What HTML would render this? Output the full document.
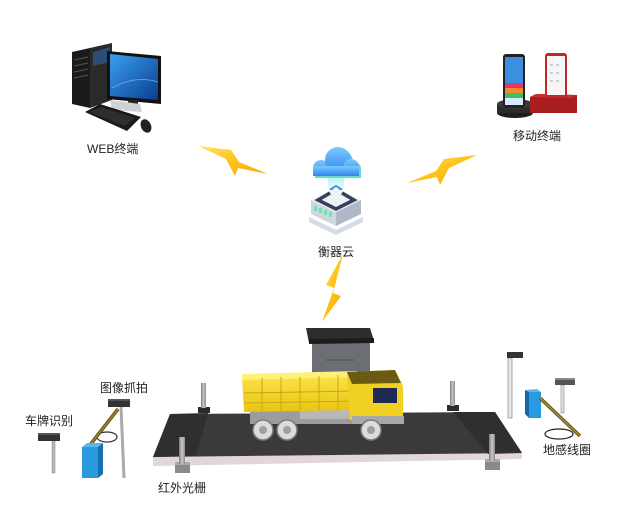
<!DOCTYPE html>
<html><head><meta charset="utf-8"><style>
html,body{margin:0;padding:0;background:#fff;}
svg{display:block;}
text{font-family:"Liberation Sans","Noto Sans CJK SC",sans-serif;font-size:12px;fill:#222;}
</style></head><body>
<svg width="622" height="511" viewBox="0 0 622 511" xmlns="http://www.w3.org/2000/svg">
<defs>
<linearGradient id="bolt" x1="0" y1="0" x2="1" y2="1"><stop offset="0" stop-color="#ffe36a"/><stop offset="0.5" stop-color="#ffc21a"/><stop offset="1" stop-color="#f5a800"/></linearGradient>
<linearGradient id="scr" x1="0" y1="0" x2="1" y2="1"><stop offset="0" stop-color="#3aa0f0"/><stop offset="1" stop-color="#0a3d8f"/></linearGradient>
<linearGradient id="cloud" x1="0" y1="0" x2="0" y2="1"><stop offset="0" stop-color="#7cc9ff"/><stop offset="1" stop-color="#2f86ee"/></linearGradient>
<linearGradient id="beam" x1="0" y1="0" x2="0" y2="1"><stop offset="0" stop-color="#a8f0f0" stop-opacity="0.9"/><stop offset="1" stop-color="#c8f4ff" stop-opacity="0.2"/></linearGradient>
<linearGradient id="bed" x1="0" y1="0" x2="0" y2="1"><stop offset="0" stop-color="#fbe44a"/><stop offset="1" stop-color="#e8c414"/></linearGradient>
<linearGradient id="post" x1="0" y1="0" x2="1" y2="0"><stop offset="0" stop-color="#7a7a7a"/><stop offset="0.5" stop-color="#c8c8c8"/><stop offset="1" stop-color="#8a8a8a"/></linearGradient>
</defs>

<!-- WEB terminal computer -->
<polygon points="90,48 112,43 112,100 90,108" fill="#2a2a2a"/>
<polygon points="93,52 110,47 110,62 93,66" fill="#2d5c9a" opacity="0.7"/>
<polygon points="72,52 90,48 90,108 72,104" fill="#1b1b1b"/>
<g stroke="#555" stroke-width="1"><line x1="74" y1="60" x2="88" y2="57"/><line x1="74" y1="66" x2="88" y2="63"/><line x1="74" y1="72" x2="88" y2="69"/><line x1="74" y1="78" x2="88" y2="75"/></g>
<polygon points="107,51 161,56 161,104 107,99" fill="#111"/>
<polygon points="110,54 158,59 158,100 110,96" fill="url(#scr)"/>
<path d="M112 88 Q135 75 158 82" stroke="#7fc8ff" stroke-width="1" fill="none" opacity="0.6"/>
<rect x="128" y="100" width="10" height="7" fill="#222"/>
<polygon points="110,100 140,104 142,112 112,110" fill="#cfd3d6"/>
<polygon points="85,112 100,104 141,117 127,131" fill="#1a1a1a"/>
<polygon points="89,112 101,107 135,118 125,126" fill="#2e2e2e"/>
<ellipse cx="146" cy="126" rx="5" ry="7" transform="rotate(-25 146 126)" fill="#222"/>
<text x="87" y="153">WEB终端</text>

<!-- Mobile terminal -->
<ellipse cx="515" cy="113" rx="18" ry="5" fill="#1e1e1e"/>
<rect x="497" y="104" width="36" height="9" fill="#2c2c2c"/>
<ellipse cx="515" cy="104" rx="18" ry="5" fill="#3a3a3a"/>
<rect x="503" y="54" width="22" height="54" rx="3" fill="#222"/>
<rect x="505" y="57" width="18" height="26" fill="#3b8fe0"/>
<rect x="505" y="83" width="18" height="5" fill="#e8336b"/>
<rect x="505" y="88" width="18" height="5" fill="#f28c28"/>
<rect x="505" y="93" width="18" height="5" fill="#3fbf6a"/>
<rect x="505" y="98" width="18" height="7" fill="#d8ecff"/>
<polygon points="530,97 536,94 577,95 577,113 530,113" fill="#a81e20"/>
<polygon points="530,97 536,94 577,95 571,98" fill="#c83030"/>
<rect x="545" y="53" width="22" height="45" rx="3" fill="#c0282a"/>
<rect x="547" y="56" width="18" height="39" fill="#f6f6f6"/>
<g fill="#cfcfcf"><rect x="550" y="64" width="3" height="2"/><rect x="556" y="64" width="3" height="2"/><rect x="550" y="72" width="3" height="2"/><rect x="556" y="72" width="3" height="2"/><rect x="550" y="80" width="3" height="2"/><rect x="556" y="80" width="3" height="2"/></g>
<text x="513" y="140">移动终端</text>

<!-- Lightning bolts -->
<polygon points="198,146 231,150 239,162 268,174 238,168 235,176 226,159" fill="url(#bolt)"/>
<polygon points="477,155 444,159 436,171 407,183 437,177 440,185 449,168" fill="url(#bolt)"/>
<polygon points="343,254 326,285 334,288 322,322 341,296 333,293" fill="url(#bolt)"/>

<!-- Cloud -->
<rect x="328" y="177" width="16" height="14" fill="url(#beam)"/>
<g transform="translate(2,2)" fill="#62dccb">
<circle cx="321" cy="168" r="8"/><circle cx="338" cy="160" r="13"/><circle cx="351" cy="167" r="8"/><rect x="313" y="166" width="46" height="10"/>
</g>
<g fill="url(#cloud)">
<circle cx="321" cy="168" r="8"/><circle cx="338" cy="160" r="13"/><circle cx="351" cy="167" r="8"/><rect x="313" y="166" width="46" height="10"/>
</g>
<polygon points="336,185 343,189 336,193 329,189" fill="#3a8ee8"/>
<polygon points="336,187 339,189 336,191 333,189" fill="#fff"/>
<!-- Server box -->
<polygon points="309,217 336,230 363,217 363,222 336,235 309,222" fill="#d5dce6"/>
<polygon points="311,200 336,212 336,226 311,214" fill="#cfd6e0"/>
<polygon points="336,212 361,200 361,214 336,226" fill="#aeb8c6"/>
<polygon points="311,200 336,188 361,200 336,212" fill="#eef2f7"/>
<polyline points="330,193 318,200 336,209 354,200 342,193" fill="none" stroke="#35405a" stroke-width="3.5"/>
<g fill="#6de3b0"><rect x="314" y="206" width="3" height="5"/><rect x="319" y="208" width="3" height="5"/><rect x="324" y="210" width="3" height="5"/><rect x="329" y="212" width="3" height="5"/></g>
<text x="318" y="256">衡器云</text>

<!-- Platform -->
<polygon points="153,457 522,453 522,459 153,466" fill="#e2d6d6"/>
<polygon points="170,414 495,412 522,453 153,457" fill="#3b3939"/>
<polygon points="170,414 208,413 196,456 153,457" fill="#302e2e"/>
<polygon points="453,412 495,412 522,453 488,454" fill="#302e2e"/>

<!-- back posts -->
<rect x="198" y="407" width="12" height="6" fill="#2b2b2b"/>
<rect x="201" y="383" width="5" height="25" fill="url(#post)"/>
<rect x="447" y="405" width="12" height="6" fill="#2b2b2b"/>
<rect x="450" y="381" width="5" height="25" fill="url(#post)"/>

<!-- Booth -->
<rect x="312" y="342" width="58" height="40" fill="#6b6e73"/>
<line x1="326" y1="360" x2="354" y2="360" stroke="#4a4c50" stroke-width="1"/>
<polygon points="306,328 370,328 374,341 309,343" fill="#2e2e2e"/>
<polygon points="309,339 374,338 374,343 309,344" fill="#1c1c1c"/>

<!-- Truck -->
<rect x="250" y="404" width="150" height="20" fill="#9c9c9c"/>
<rect x="300" y="409" width="50" height="10" fill="#b8b8b8"/>
<polygon points="242,377 357,374 358,410 244,412" fill="url(#bed)"/>
<polygon points="242,374 357,371 357,377 242,380" fill="#fff07a"/>
<g stroke="#c9a80c" stroke-width="1">
<line x1="244" y1="393" x2="357" y2="391"/>
<line x1="244" y1="403" x2="357" y2="401"/>
<line x1="262" y1="378" x2="262" y2="411"/><line x1="281" y1="377" x2="281" y2="411"/><line x1="300" y1="377" x2="300" y2="410"/><line x1="319" y1="376" x2="319" y2="410"/><line x1="338" y1="375" x2="338" y2="410"/>
</g>
<polygon points="347,372 395,370 403,386 403,420 350,420" fill="#f0d020"/>
<polygon points="347,372 395,370 401,383 352,384" fill="#6b5a12"/>
<rect x="373" y="388" width="24" height="15" fill="#1e2a55"/>
<rect x="352" y="416" width="52" height="8" fill="#a8a8a8"/>
<g fill="#dcdcdc" stroke="#7a7a7a" stroke-width="1.5">
<circle cx="263" cy="430" r="10"/><circle cx="287" cy="430" r="10"/><circle cx="371" cy="430" r="10"/>
</g>
<g fill="#a0a0a0"><circle cx="263" cy="430" r="4"/><circle cx="287" cy="430" r="4"/><circle cx="371" cy="430" r="4"/></g>

<!-- front posts -->
<rect x="175" y="462" width="15" height="11" fill="#8a8a8a"/>
<rect x="175" y="462" width="15" height="3" fill="#aaa"/>
<rect x="179" y="437" width="6" height="27" fill="url(#post)"/>
<rect x="485" y="459" width="15" height="11" fill="#8a8a8a"/>
<rect x="485" y="459" width="15" height="3" fill="#aaa"/>
<rect x="489" y="434" width="6" height="27" fill="url(#post)"/>
<text x="158" y="492">红外光栅</text>

<!-- Left devices -->
<rect x="52" y="441" width="3" height="32" fill="#b8b8b8" stroke="#888" stroke-width="0.5"/>
<rect x="38" y="433" width="22" height="8" fill="#333"/>
<rect x="38" y="433" width="22" height="2" fill="#555"/>
<text x="25" y="425">车牌识别</text>

<line x1="121" y1="407" x2="124" y2="478" stroke="#aaa" stroke-width="3"/>
<rect x="108" y="399" width="22" height="8" fill="#333"/>
<rect x="108" y="399" width="22" height="2" fill="#555"/>
<ellipse cx="107" cy="437" rx="10" ry="5" fill="none" stroke="#333" stroke-width="1.2"/>
<line x1="90" y1="445" x2="118" y2="409" stroke="#6b5a1a" stroke-width="3.5"/>
<line x1="90" y1="445" x2="118" y2="409" stroke="#a8963a" stroke-width="1"/>
<polygon points="82,447 87,443 103,443 98,447" fill="#5ab8f0"/>
<polygon points="98,447 103,443 103,474 98,478" fill="#1670b0"/>
<rect x="82" y="447" width="16" height="31" fill="#2a9ae0"/>
<text x="100" y="392">图像抓拍</text>

<!-- Right devices -->
<rect x="508" y="358" width="4" height="60" fill="#e6e6e6" stroke="#888" stroke-width="0.7"/>
<rect x="507" y="352" width="16" height="6" fill="#333"/>
<polygon points="525,390 537,389 541,392 529,392" fill="#5ab8f0"/>
<polygon points="525,390 529,392 529,418 525,414" fill="#1467a8"/>
<rect x="529" y="392" width="12" height="26" fill="#2a9ae0"/>
<line x1="540" y1="398" x2="580" y2="436" stroke="#6b5a1a" stroke-width="3.5"/>
<line x1="540" y1="398" x2="580" y2="436" stroke="#b0a040" stroke-width="1"/>
<rect x="561" y="385" width="3" height="28" fill="#e0e0e0" stroke="#888" stroke-width="0.6"/>
<rect x="555" y="378" width="20" height="7" fill="#555"/>
<rect x="555" y="378" width="20" height="2" fill="#888"/>
<ellipse cx="559" cy="434" rx="14" ry="5" fill="none" stroke="#222" stroke-width="1.2"/>
<text x="543" y="454">地感线圈</text>
</svg>
</body></html>
